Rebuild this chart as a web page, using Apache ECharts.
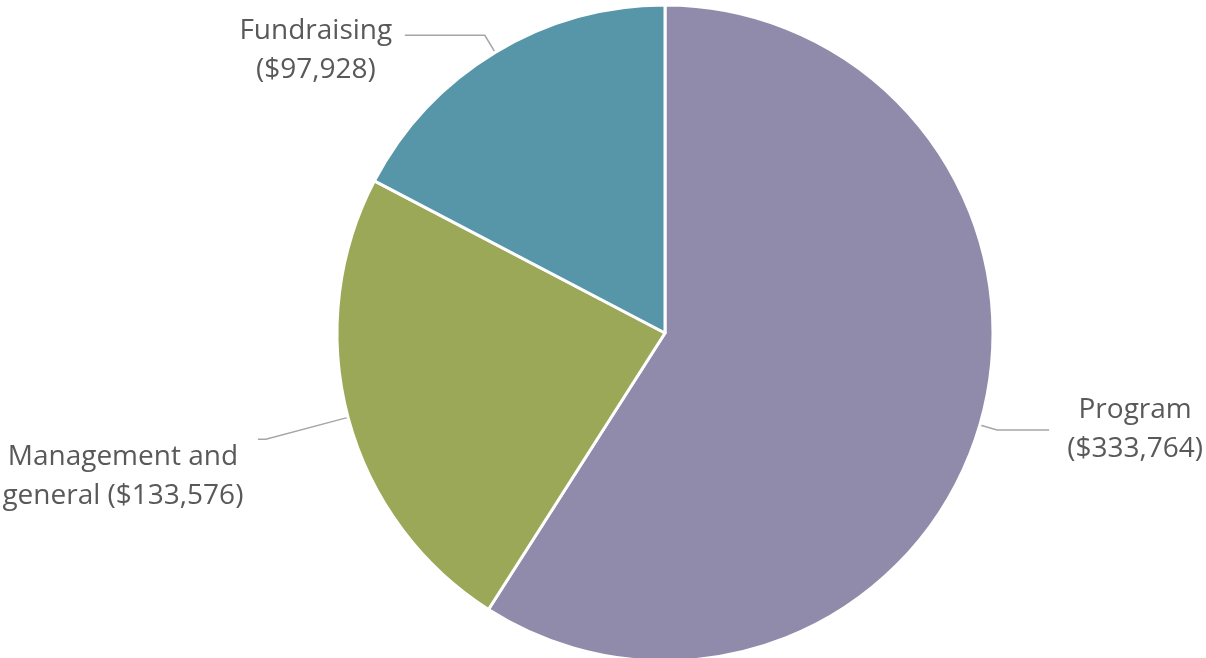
<!DOCTYPE html>
<html><head><meta charset="utf-8">
<script src="https://cdn.jsdelivr.net/npm/echarts@6/dist/echarts.min.js"></script>
<style>html,body{margin:0;padding:0;background:#fff}#c{width:1206px;height:658px}</style>
</head><body><div id="c"></div>
<script>
const categories = ['Program', 'Management and general', 'Fundraising'];
const values = [333764, 133576, 97928];
const labelTexts = [['Program', '($333,764)'], ['Management and', 'general ($133,576)'], ['Fundraising', '($97,928)']];

const colors = ['#918BAB', '#9BA857', '#5796A8'];
const lineCfg = [{length: 18, length2: 52}, {length: 85, length2: 8}, {length: 20, length2: 80}];
const labelCfg = [{w: 150, pad: [0, 0, 0, 6]}, {w: 252, pad: [74, 4, 0, 0]}, {w: 160, pad: [30, 4, 0, 0]}];

const chart = echarts.init(document.getElementById('c'));
chart.setOption({
  backgroundColor: '#fff',
  animation: false,
  series: [{
    type: 'pie',
    center: [665, 333],
    radius: 328,
    startAngle: 90,
    clockwise: true,
    avoidLabelOverlap: false,
    itemStyle: {borderColor: '#fff', borderWidth: 3},
    labelLine: {show: true, lineStyle: {color: '#A6A6A6', width: 1.5}},
    data: categories.map((c, i) => ({
      name: c,
      value: values[i],
      itemStyle: {color: colors[i]},
      labelLine: {length: lineCfg[i].length, length2: lineCfg[i].length2},
      label: {
        show: true,
        position: 'outside',
        bleedMargin: 0,
        overflow: 'none',
        padding: labelCfg[i].pad,
        formatter: '{a|' + labelTexts[i][0] + '}\n{a|' + labelTexts[i][1] + '}',
        rich: {a: {width: labelCfg[i].w, align: 'center', fontFamily: 'Open Sans', fontSize: 28, lineHeight: 39, color: '#595959'}}
      }
    }))
  }]
});
</script></body></html>
